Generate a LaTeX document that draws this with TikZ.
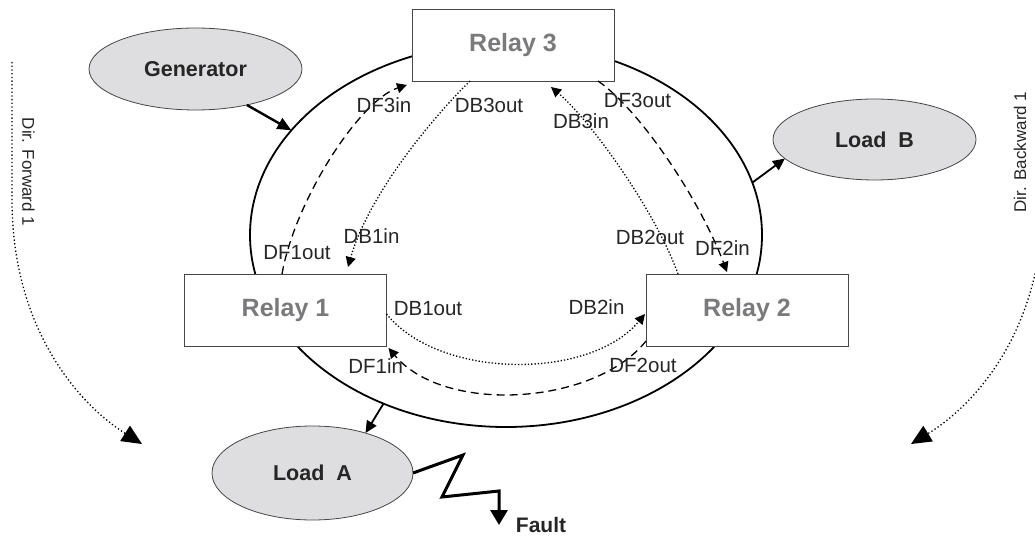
\documentclass[tikz,border=0pt]{standalone}
\usepackage{fontspec}
\setmainfont{Liberation Sans}
\usetikzlibrary{arrows.meta,shapes.geometric}
\definecolor{relaygray}{RGB}{122,122,124}
\definecolor{loadfill}{RGB}{222,222,224}
\definecolor{edgegray}{RGB}{70,70,70}
\begin{document}
\begin{tikzpicture}[x=1pt,y=-1pt,
  relaybox/.style={draw=edgegray, line width=0.9pt, fill=white, minimum width=202pt, minimum height=72pt, inner sep=0pt, outer sep=0pt, font=\fontsize{25}{28}\selectfont\bfseries, text=relaygray},
  loadell/.style={ellipse, draw=edgegray, line width=0.8pt, fill=loadfill, inner sep=0pt, outer sep=0pt, font=\fontsize{21.5}{24}\selectfont\bfseries, text=black!85},
  lbl/.style={font=\fontsize{20.5}{23}\selectfont, inner sep=0pt, text=black!85},
  dirlbl/.style={font=\fontsize{17}{20}\selectfont, inner sep=0pt, text=black!85},
  dfarrow/.style={dash pattern=on 8pt off 5pt, line width=1.3pt, -{Triangle[length=10pt,width=10pt]}},
  dbarrow/.style={dash pattern=on 1.3pt off 2pt, line width=1.3pt, -{Triangle[length=10pt,width=10pt]}},
  dirarrow/.style={dash pattern=on 1.3pt off 2.4pt, line width=1.3pt, -{Triangle[length=20pt,width=18pt]}}
]
\useasboundingbox (0,0) rectangle (1035,537);
\begin{scope}
\clip (0,0) rectangle (1035,537);

% ring
\node[ellipse, draw=black, line width=1.8pt, minimum width=512pt, minimum height=384pt, inner sep=0pt, outer sep=0pt] (ring) at (506,235) {};

% relays
\node[relaybox] (r3) at (513,45) {Relay 3};
\node[relaybox] (r1) at (285.5,310) {Relay 1};
\node[relaybox] (r2) at (747,310) {Relay 2};

% gen & loads
\node[loadell, minimum width=213pt, minimum height=82pt] (gen) at (195.5,69) {Generator};
\node[loadell, minimum width=203pt, minimum height=81pt] (loadB) at (874.5,139.5) {Load\ \ B};
\node[loadell, minimum width=201pt, minimum height=94pt] (loadA) at (312.5,473) {Load\ \ A};
\node[font=\fontsize{21}{24}\selectfont\bfseries, inner sep=0pt, text=black!85] (fault) at (541,525) {Fault};

% power arrows
\draw[line width=2.4pt, -{Triangle[length=14pt,width=12pt]}] (gen.-35) -- (ring.154.6);
\draw[line width=1.8pt, -{Triangle[length=12pt,width=11pt]}] (ring.12.6) -- (loadB.-168.3);
\draw[line width=1.8pt, -{Triangle[length=12pt,width=11pt]}] (ring.-126.7) -- (loadA.37.8);

% fault zigzag
\coordinate (z1) at (463,455);
\coordinate (z2) at (442,497);
\coordinate (z3) at (499,491);
\coordinate (zEnd) at (499,525);
\draw[line width=3pt, -{Triangle[length=15pt,width=17pt]}] (loadA.east) -- (z1) -- (z2) -- (z3) -- (zEnd);

% relay communication arrows
\draw[dfarrow] ([xshift=-3.5pt]r1.north) .. controls (295,200) and (360,100) .. ([xshift=-5pt,yshift=-4pt]r3.south west);
\draw[dbarrow] ([xshift=-43pt]r3.south) .. controls (440,110) and (370,190) .. ([xshift=62.5pt,yshift=7pt]r1.north);
\draw[dbarrow] ([xshift=-69pt]r2.north) .. controls (655,210) and (590,120) .. ([xshift=38pt,yshift=-6pt]r3.south);
\draw[dfarrow] ([xshift=85pt]r3.south) .. controls (640,110) and (700,200) .. ([xshift=-20pt,yshift=2pt]r2.north);
\draw[dbarrow] ([yshift=-4pt]r1.east) .. controls (440,380) and (590,380) .. ([xshift=-1pt,yshift=-4pt]r2.west);
\draw[dfarrow] ([yshift=5pt]r2.south west) .. controls (595,405) and (445,415) .. ([xshift=2pt,yshift=-2pt]r1.south east);

% labels
\node[lbl] (l1) at (384,105.5) {DF3in};
\node[lbl] (l2) at (489,105) {DB3out};
\node[lbl] (l3) at (637.5,100.5) {DF3out};
\node[lbl] (l4) at (581,121) {DB3in};
\node[lbl] (l5) at (371.5,236) {DB1in};
\node[lbl] (l6) at (297,253) {DF1out};
\node[lbl] (l7) at (650,237.5) {DB2out};
\node[lbl] (l8) at (722.5,248) {DF2in};
\node[lbl] (l9) at (428,308.5) {DB1out};
\node[lbl] (l10) at (375.7,366.5) {DF1in};
\node[lbl] (l11) at (596.5,307) {DB2in};
\node[lbl] (l12) at (643,365.7) {DF2out};

% direction indicators
\node[dirlbl, rotate=-90] (fwdlbl) at (28.5,172) {Dir. Forward 1};
\node[dirlbl, rotate=90] (bwdlbl) at (1020,152) {Dir. Backward 1};
\coordinate (fwdA) at (12,62);
\coordinate (fwdB) at (12,200);
\coordinate (fwdT) at (142,444);
\draw[dirarrow] (fwdA) -- (fwdB) .. controls (12,330) and (80,405) .. (fwdT);
\coordinate (bwdB) at (1043,200);
\coordinate (bwdT) at (911,444);
\draw[dirarrow] (bwdB) .. controls (1043,330) and (975,405) .. (bwdT);
\end{scope}
\end{tikzpicture}
\end{document}
